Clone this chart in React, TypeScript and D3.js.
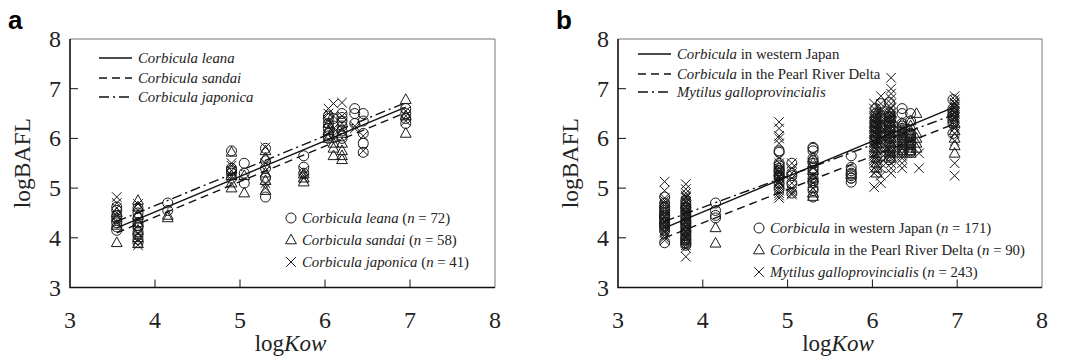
import * as d3 from "d3";

// ---- data ----
const xTicks = [3, 4, 5, 6, 7, 8];
const yTicks = [3, 4, 5, 6, 7, 8];

type Cluster = [number, number[]];

// panel a
const leana: Cluster[] = [
  [3.55, [4.15, 4.22, 4.3, 4.38, 4.45, 4.55, 4.62]],
  [3.8, [3.9, 3.97, 4.05, 4.12, 4.2, 4.25, 4.3, 4.4, 4.5, 4.6]],
  [4.15, [4.7, 4.55]],
  [4.9, [5.75, 5.4, 5.35, 5.3, 5.2]],
  [5.05, [5.5, 5.3, 5.1]],
  [5.3, [5.8, 5.55, 5.4, 5.2, 4.82]],
  [5.75, [5.65, 5.42, 5.3]],
  [6.04, [6.45, 6.4, 6.3, 6.2, 6.1, 6.05, 6.0]],
  [6.1, [6.4, 6.25, 6.1]],
  [6.2, [6.5, 6.42, 6.35, 6.25, 6.15, 6.05, 6.0]],
  [6.35, [6.6, 6.5, 6.3]],
  [6.45, [6.5, 6.35, 6.1, 5.9, 5.72]],
  [6.95, [6.6, 6.5, 6.4, 6.3]],
];
const sandai: Cluster[] = [
  [3.55, [3.9, 4.25, 4.4, 4.5]],
  [3.8, [3.88, 4.0, 4.15, 4.3, 4.45, 4.62, 4.75]],
  [4.15, [4.45, 4.4]],
  [4.9, [5.72, 5.0, 5.1, 5.25]],
  [5.05, [4.9, 5.25]],
  [5.3, [5.75, 5.6, 5.3, 5.15, 4.95]],
  [5.75, [5.12, 5.2, 5.28]],
  [6.04, [6.3, 6.15, 6.0]],
  [6.1, [5.9, 5.8, 5.65]],
  [6.2, [5.57, 5.65, 5.75, 5.9, 6.1]],
  [6.95, [6.78, 6.1, 6.45]],
];
const japonica: Cluster[] = [
  [3.55, [4.3, 4.45, 4.6, 4.7, 4.82]],
  [3.8, [3.85, 3.95, 4.1, 4.35, 4.55, 4.68]],
  [4.9, [5.5, 5.45, 5.35, 5.25]],
  [5.3, [5.82, 5.5, 5.35, 5.1, 5.0]],
  [5.75, [5.25, 5.35, 5.2]],
  [6.04, [6.6, 6.5, 6.35, 6.25]],
  [6.1, [6.7, 6.45, 6.2, 6.05]],
  [6.2, [6.72, 6.45, 6.3, 6.2]],
  [6.35, [6.25, 6.2]],
  [6.45, [5.75, 6.05]],
  [6.95, [6.55, 6.45, 6.35]],
];

// panel b (western Japan = all panel a samples)
const pearlRiver: Cluster[] = [
  [4.15, [4.2, 3.89]],
  [5.3, [4.83, 4.9, 5.2, 5.35, 5.5, 5.6]],
  [6.05, [5.3, 5.4, 5.5, 5.6, 5.7, 5.8, 5.9, 6.0, 6.1, 6.2, 6.3, 6.4, 6.5]],
  [6.22, [5.6, 5.7, 5.8, 5.9, 6.0, 6.1, 6.2, 6.3, 6.4, 6.5]],
  [6.35, [5.7, 5.75, 5.8, 5.85, 5.9, 5.95, 6.0, 6.05, 6.1, 6.15, 6.2, 6.3]],
  [6.45, [5.7, 5.75, 5.8, 5.85, 5.9, 5.95, 6.0, 6.05, 6.1, 6.15, 6.25, 6.35]],
  [6.52, [6.5, 5.8, 5.9, 6.0, 6.1]],
  [6.97, [5.7, 5.85, 6.0, 6.15, 6.3]],
];
const mytilus: Cluster[] = [
  [3.55, [5.13, 4.95, 4.8, 4.75, 4.7, 4.65, 4.6, 4.55, 4.5, 4.45, 4.4, 4.35, 4.3, 4.25, 4.2, 4.15, 4.1, 4.05, 4.0, 3.95, 4.12, 4.22, 4.32, 4.42]],
  [3.8, [5.08, 4.98, 4.9, 4.85, 4.8, 4.75, 4.7, 4.65, 4.6, 4.55, 4.5, 4.45, 4.4, 4.35, 4.3, 4.25, 4.2, 4.15, 4.1, 4.05, 4.0, 3.95, 3.9, 3.85, 3.8, 3.62, 4.02, 4.12, 4.22, 4.32, 4.42, 4.52, 4.62, 4.72, 4.82]],
  [4.9, [6.33, 6.2, 6.05, 6.0, 5.9, 5.6, 5.5, 5.4, 5.35, 5.3, 5.25, 5.2, 5.15, 5.1, 5.05, 5.0, 4.95, 4.9, 4.85, 4.8, 5.22, 5.32, 5.12]],
  [5.05, [5.5, 5.4, 5.3, 5.2, 5.1, 5.0, 4.95, 4.9, 4.87]],
  [5.3, [5.0, 5.1, 5.25, 5.4]],
  [6.02, [6.7, 6.6, 6.5, 6.45, 6.4, 6.35, 6.3, 6.25, 6.2, 6.15, 6.1, 6.05, 6.0, 5.95, 5.9, 5.85, 5.8, 5.75, 5.7, 5.65, 5.6, 5.55, 5.5, 5.4, 5.3, 5.02, 6.12, 6.22, 6.32, 5.92, 5.82]],
  [6.1, [6.85, 6.7, 6.6, 6.5, 6.4, 6.3, 6.2, 6.1, 6.0, 5.9, 5.8, 5.7, 5.6, 5.5, 5.4, 5.25, 5.1, 6.55, 6.45, 6.35, 6.25, 6.15, 6.05, 5.95, 5.85]],
  [6.22, [7.22, 7.0, 6.9, 6.8, 6.7, 6.6, 6.5, 6.45, 6.4, 6.35, 6.3, 6.25, 6.2, 6.15, 6.1, 6.05, 6.0, 5.95, 5.9, 5.85, 5.8, 5.75, 5.7, 5.65, 5.6, 5.5, 5.4, 5.3, 6.62, 6.52, 6.42, 6.32, 6.12, 5.92, 5.72]],
  [6.35, [5.4, 5.5, 5.6, 5.7, 5.8, 5.9, 6.0, 6.1, 6.2, 5.65, 5.85, 6.05]],
  [6.55, [5.4, 5.7]],
  [6.97, [6.85, 6.78, 6.7, 6.65, 6.6, 6.55, 6.5, 6.45, 6.4, 6.35, 6.3, 6.25, 6.2, 6.1, 5.95, 5.5, 5.25, 6.72, 6.62, 6.52, 6.42]],
];

// regression lines [start, end]
const fitLeana = [[3.55, 4.2], [6.95, 6.63]];
const fitSandai = [[3.55, 4.1], [6.95, 6.52]];
const fitJaponica = [[3.55, 4.33], [6.95, 6.72]];
const fitWestJapan = [[3.55, 4.2], [6.95, 6.62]];
const fitPearl = [[3.55, 4.0], [6.95, 6.28]];
const fitMytilus = [[3.55, 4.33], [6.95, 6.47]];

const flat = (c: Cluster[]) => c.flatMap(([x, ys]) => ys.map((y) => [x, y] as [number, number]));

const INK = "#1a1a1a";
const SERIF = "'Liberation Serif', 'Times New Roman', Times, serif";
const DASH: Record<string, string> = { solid: "none", dashed: "8,5", dashdot: "10,4,2,4" };

function Marker({ kind, x, y }: { kind: string; x: number; y: number }) {
  if (kind === "circle") return <circle cx={x} cy={y} r={5} fill="none" stroke={INK} strokeWidth={1} />;
  if (kind === "triangle")
    return <path d={`M${x},${y - 5.8}L${x + 5.4},${y + 3.8}L${x - 5.4},${y + 3.8}Z`} fill="none" stroke={INK} strokeWidth={1} />;
  return <path d={`M${x - 4.8},${y - 4.8}L${x + 4.8},${y + 4.8}M${x + 4.8},${y - 4.8}L${x - 4.8},${y + 4.8}`} stroke={INK} strokeWidth={1} />;
}

type Label = { it: string; rest: string };

function Panel(props: {
  left: number;
  right: number;
  tag: string;
  tagX: number;
  series: { kind: string; pts: [number, number][] }[];
  fits: { style: string; pts: number[][] }[];
  lineLegend: Label[];
  lineLegendX: number;
  lineLegendY: number[];
  markLegend: { kind: string; label: Label; n: number }[];
  markLegendX: number;
  markLegendY: number[];
}) {
  const top = 39;
  const bottom = 287.5;
  const x = d3.scaleLinear().domain([3, 8]).range([props.left, props.right]);
  const y = d3.scaleLinear().domain([3, 8]).range([bottom, top]);
  const line = d3.line<number[]>().x((d) => x(d[0])).y((d) => y(d[1]));
  const mid = (props.left + props.right) / 2;

  return (
    <g>
      <text x={props.tagX} y={29} fontFamily="'Liberation Sans', Arial, sans-serif" fontWeight="bold" fontSize={26}>
        {props.tag}
      </text>
      {/* frame */}
      <path d={`M${props.left},${top}H${props.right}V${bottom}`} fill="none" stroke="#777" strokeWidth={1} />
      <path d={`M${props.left},${top}V${bottom}H${props.right}`} fill="none" stroke="#111" strokeWidth={1.6} />
      {xTicks.slice(1, -1).map((t) => (
        <line key={"xt" + t} x1={x(t)} x2={x(t)} y1={bottom} y2={bottom - 8} stroke="#111" strokeWidth={1} />
      ))}
      {yTicks.slice(1, -1).map((t) => (
        <line key={"yt" + t} x1={props.left} x2={props.left + 8} y1={y(t)} y2={y(t)} stroke="#111" strokeWidth={1} />
      ))}
      {xTicks.map((t) => (
        <text key={"xl" + t} x={x(t)} y={328} textAnchor="middle" fontFamily={SERIF} fontSize={24} fill="#222">
          {t}
        </text>
      ))}
      {yTicks.map((t) => (
        <text key={"yl" + t} x={props.left - 9} y={y(t) + 8} textAnchor="end" fontFamily={SERIF} fontSize={24} fill="#222">
          {t}
        </text>
      ))}
      <text x={mid + 8} y={351} textAnchor="middle" fontFamily={SERIF} fontSize={23} fill="#222">
        log<tspan fontStyle="italic">Kow</tspan>
      </text>
      <text
        transform={`translate(${props.left - 40},${(top + bottom) / 2}) rotate(-90)`}
        textAnchor="middle"
        fontFamily={SERIF}
        fontSize={23.5}
        fill="#222"
      >
        logBAFL
      </text>
      {/* points */}
      {props.series.map((s, i) => (
        <g key={"s" + i}>
          {s.pts.map((p, j) => (
            <Marker key={j} kind={s.kind} x={x(p[0])} y={y(p[1])} />
          ))}
        </g>
      ))}
      {/* fits */}
      {props.fits.map((f, i) => (
        <path key={"f" + i} d={line(f.pts) ?? ""} fill="none" stroke="#111" strokeWidth={1.4} strokeDasharray={DASH[f.style]} />
      ))}
      {/* line legend */}
      {props.lineLegend.map((l, i) => (
        <g key={"ll" + i}>
          <line
            x1={props.lineLegendX}
            x2={props.lineLegendX + 33}
            y1={props.lineLegendY[i]}
            y2={props.lineLegendY[i]}
            stroke="#111"
            strokeWidth={1.4}
            strokeDasharray={DASH[props.fits[i].style]}
          />
          <text x={props.lineLegendX + 39} y={props.lineLegendY[i] + 5} fontFamily={SERIF} fontSize={14.8} fill="#222">
            <tspan fontStyle="italic">{l.it}</tspan>
            {l.rest}
          </text>
        </g>
      ))}
      {/* marker legend */}
      {props.markLegend.map((m, i) => (
        <g key={"ml" + i}>
          <Marker kind={m.kind} x={props.markLegendX} y={props.markLegendY[i]} />
          <text x={props.markLegendX + 11} y={props.markLegendY[i] + 5} fontFamily={SERIF} fontSize={14.8} fill="#222">
            <tspan fontStyle="italic">{m.label.it}</tspan>
            {m.label.rest} (<tspan fontStyle="italic">n</tspan> = {m.n})
          </text>
        </g>
      ))}
    </g>
  );
}

export default function App() {
  const aLeana = flat(leana);
  const aSandai = flat(sandai);
  const aJaponica = flat(japonica);
  const westJapan = [...aLeana, ...aSandai, ...aJaponica];
  return (
    <svg width={1070} height={362} style={{ position: "absolute", left: 0, top: 0, background: "#fff" }}>
      <Panel
        left={70}
        right={495}
        tag="a"
        tagX={8}
        series={[
          { kind: "circle", pts: aLeana },
          { kind: "triangle", pts: aSandai },
          { kind: "x", pts: aJaponica },
        ]}
        fits={[
          { style: "solid", pts: fitLeana },
          { style: "dashed", pts: fitSandai },
          { style: "dashdot", pts: fitJaponica },
        ]}
        lineLegend={[
          { it: "Corbicula leana", rest: "" },
          { it: "Corbicula sandai", rest: "" },
          { it: "Corbicula japonica", rest: "" },
        ]}
        lineLegendX={99}
        lineLegendY={[58, 78, 97]}
        markLegend={[
          { kind: "circle", label: { it: "Corbicula leana", rest: "" }, n: 72 },
          { kind: "triangle", label: { it: "Corbicula sandai", rest: "" }, n: 58 },
          { kind: "x", label: { it: "Corbicula japonica", rest: "" }, n: 41 },
        ]}
        markLegendX={291}
        markLegendY={[218, 240, 262]}
      />
      <Panel
        left={618}
        right={1042}
        tag="b"
        tagX={556}
        series={[
          { kind: "circle", pts: westJapan },
          { kind: "triangle", pts: flat(pearlRiver) },
          { kind: "x", pts: flat(mytilus) },
        ]}
        fits={[
          { style: "solid", pts: fitWestJapan },
          { style: "dashed", pts: fitPearl },
          { style: "dashdot", pts: fitMytilus },
        ]}
        lineLegend={[
          { it: "Corbicula", rest: " in western Japan" },
          { it: "Corbicula", rest: " in the Pearl River Delta" },
          { it: "Mytilus galloprovincialis", rest: "" },
        ]}
        lineLegendX={638}
        lineLegendY={[54, 74, 92]}
        markLegend={[
          { kind: "circle", label: { it: "Corbicula", rest: " in western Japan" }, n: 171 },
          { kind: "triangle", label: { it: "Corbicula", rest: " in the Pearl River Delta" }, n: 90 },
          { kind: "x", label: { it: "Mytilus galloprovincialis", rest: "" }, n: 243 },
        ]}
        markLegendX={759}
        markLegendY={[228, 250, 272]}
      />
    </svg>
  );
}
